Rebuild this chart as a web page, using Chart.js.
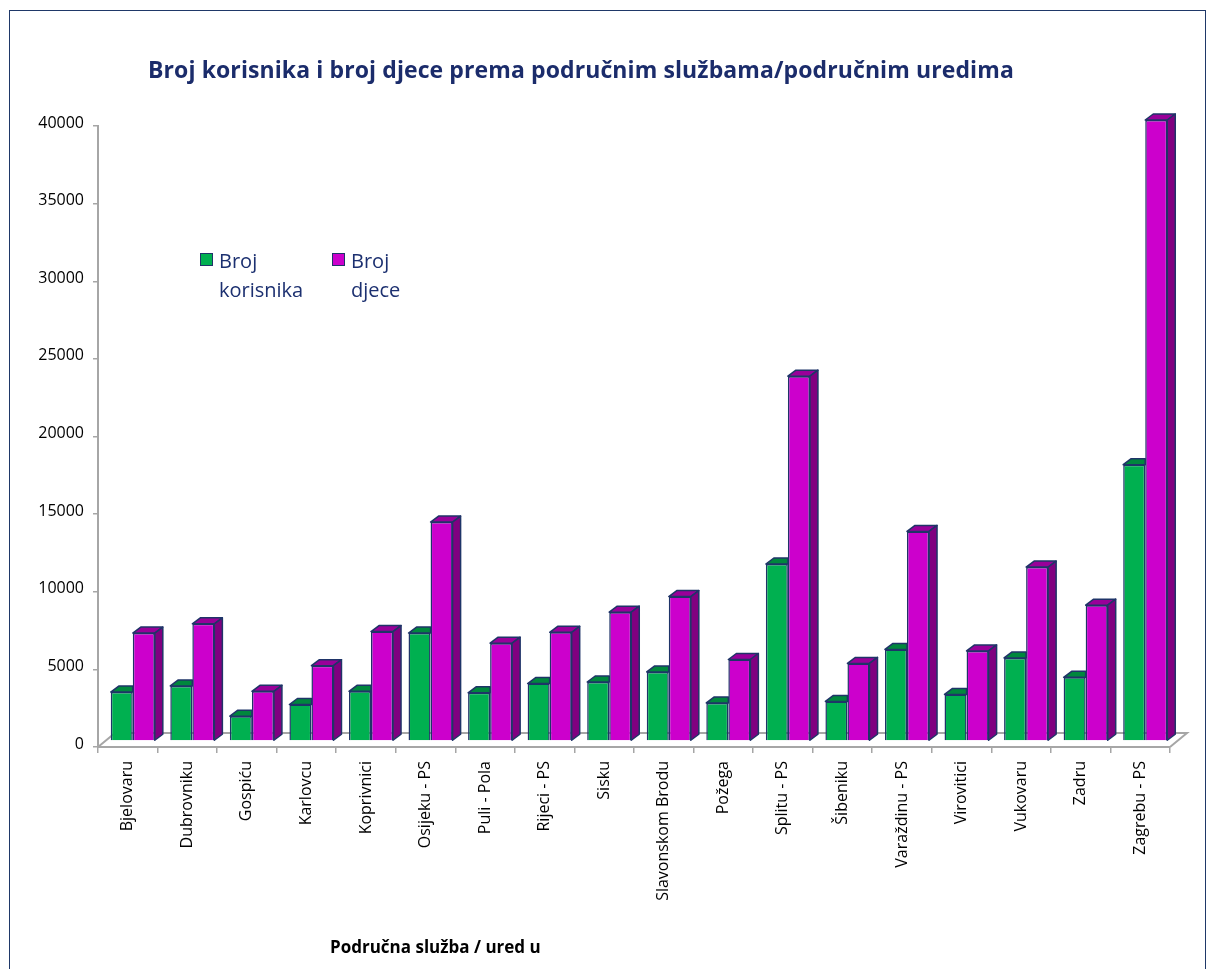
<!DOCTYPE html>
<html>
<head>
<meta charset="utf-8">
<script src="https://cdn.jsdelivr.net/npm/chart.js@4.4.1/dist/chart.umd.min.js"></script>
<style>
  html, body { margin: 0; padding: 0; background: #fff; }
  #wrap { position: relative; width: 1208px; height: 969px; overflow: hidden; }
  #frame { position: absolute; left: 9px; top: 10px; width: 1197px; height: 1000px;
           border: 1.5px solid #1F3868; box-sizing: border-box; }
  #chart { position: absolute; left: 0; top: 0; }
  #title { position: absolute; left: 148px; top: 53px; white-space: nowrap;
           font: bold 23px "Open Sans", sans-serif; letter-spacing: 0.1px; color: #1B2C6B; }
  .leg { position: absolute; font: 20px "Open Sans", sans-serif; line-height: 29px; color: #1C3070; }
  .leg i { position: absolute; left: -19px; top: 7px; width: 13px; height: 13px;
           border: 1.5px solid #1F3468; box-sizing: border-box; }
  #xtitle { position: absolute; left: 330px; top: 935px; white-space: nowrap;
            font: bold 17px "Open Sans", sans-serif; color: #000; }
</style>
</head>
<body>
<div id="wrap">
  <div id="frame"></div>
  <canvas id="chart" width="1208" height="969"></canvas>
  <div id="title">Broj korisnika i broj djece prema područnim službama/područnim uredima</div>
  <div id="legend"></div>
  <div id="xtitle">Područna služba / ured u</div>
</div>
<script>
const categories = ['Bjelovaru', 'Dubrovniku', 'Gospiću', 'Karlovcu', 'Koprivnici', 'Osijeku - PS',
  'Puli - Pola', 'Rijeci - PS', 'Sisku', 'Slavonskom Brodu', 'Požega', 'Splitu - PS',
  'Šibeniku', 'Varaždinu - PS', 'Virovitici', 'Vukovaru', 'Zadru', 'Zagrebu - PS'];
const korisnici = [3150, 3550, 1600, 2350, 3200, 6950, 3100, 3700, 3800, 4450, 2450, 11400,
  2550, 5900, 3000, 5350, 4100, 17800];
const djeca = [6950, 7550, 3200, 4850, 7050, 14100, 6300, 7000, 8300, 9300, 5250, 23500,
  5000, 13500, 5800, 11200, 8750, 40000];
const yTicks = [0, 5000, 10000, 15000, 20000, 25000, 30000, 35000, 40000];

const edge = '#1F3468';
const axisGrey = '#A6A6A6';
// offset of the bar fronts from the floor edge, and the bar depth
const shift = { x: 5, y: -6 };
const depth = { dx: 8, dy: -6 };
const floorDepth = { dx: 17, dy: -14 };

// floor outline behind the bars
const floor = {
  id: 'floor',
  beforeDatasetsDraw(chart) {
    const { ctx, chartArea: a } = chart;
    ctx.save();
    ctx.strokeStyle = axisGrey;
    ctx.lineWidth = 2;
    ctx.beginPath();
    ctx.moveTo(a.left, a.bottom);
    ctx.lineTo(a.left + floorDepth.dx, a.bottom + floorDepth.dy);
    ctx.lineTo(a.right + floorDepth.dx, a.bottom + floorDepth.dy);
    ctx.lineTo(a.right, a.bottom);
    ctx.stroke();
    ctx.restore();
  }
};

// pseudo 3D: top and side faces built from the bar elements
const bars3d = {
  id: 'bars3d',
  beforeDatasetsDraw(chart) {
    chart.ctx.save();
    chart.ctx.translate(shift.x, shift.y);
  },
  afterDatasetsDraw(chart) {
    const ctx = chart.ctx;
    const n = chart.data.datasets.length;
    ctx.lineWidth = 1.5;
    ctx.lineJoin = 'round';
    ctx.strokeStyle = edge;
    chart.data.datasets.forEach((ds, i) => {
      const last = i === n - 1;
      chart.getDatasetMeta(i).data.forEach(bar => {
        const l = bar.x - bar.width / 2, r = bar.x + bar.width / 2;
        const t = bar.y, b = bar.base;
        ctx.beginPath();
        ctx.moveTo(l, t);
        ctx.lineTo(l + depth.dx, t + depth.dy);
        ctx.lineTo(last ? r + depth.dx : r, t + depth.dy);
        ctx.lineTo(r, t);
        ctx.closePath();
        ctx.fillStyle = ds.topColor;
        ctx.fill();
        ctx.stroke();
        if (last) {
          ctx.beginPath();
          ctx.moveTo(r, t);
          ctx.lineTo(r + depth.dx, t + depth.dy);
          ctx.lineTo(r + depth.dx, b + depth.dy);
          ctx.lineTo(r, b);
          ctx.closePath();
          ctx.fillStyle = ds.sideColor;
          ctx.fill();
          ctx.stroke();
        }
      });
    });
    ctx.restore();
  }
};

const ctx = document.getElementById('chart').getContext('2d');
const chart = new Chart(ctx, {
  type: 'bar',
  data: {
    labels: categories,
    datasets: [{
      label: 'Broj korisnika',
      data: korisnici,
      backgroundColor: '#00B050',
      topColor: '#00873D',
      sideColor: '#006B2E',
      borderColor: edge,
      borderWidth: 1.5,
      clip: false
    }, {
      label: 'Broj djece',
      data: djeca,
      backgroundColor: '#CC00CC',
      topColor: '#990099',
      sideColor: '#800080',
      borderColor: edge,
      borderWidth: 1.5,
      clip: false
    }]
  },
  options: {
    responsive: false,
    animation: false,
    events: [],
    categoryPercentage: 0.74,
    barPercentage: 1,
    layout: { padding: { top: 126, right: 38, bottom: 0, left: 0 } },
    plugins: {
      legend: { display: false },
      title: { display: false },
      tooltip: { enabled: false }
    },
    scales: {
      x: {
        afterFit: s => { s.height = 222; },
        border: { color: axisGrey, width: 2 },
        grid: { offset: true, drawOnChartArea: false, tickLength: 6, color: axisGrey, lineWidth: 1.5 },
        ticks: {
          autoSkip: false, minRotation: 90, maxRotation: 90, padding: 8,
          color: '#000', font: { family: 'Open Sans', size: 16 }
        }
      },
      y: {
        min: 0,
        max: 40000,
        afterFit: s => { s.width = 98; },
        afterBuildTicks: s => { s.ticks = yTicks.map(v => ({ value: v })); },
        border: { color: axisGrey, width: 2 },
        grid: { drawOnChartArea: false, tickLength: 5, color: axisGrey, lineWidth: 1.5 },
        ticks: {
          padding: 9, labelOffset: -3,
          color: '#000', font: { family: 'Open Sans', size: 16 },
          callback: v => String(v)
        }
      }
    }
  },
  plugins: [floor, bars3d]
});

// legend, two lines per entry
const legendPos = [{ left: 219, top: 246 }, { left: 351, top: 246 }];
const legendEl = document.getElementById('legend');
chart.data.datasets.forEach((ds, i) => {
  const d = document.createElement('div');
  d.className = 'leg';
  d.style.left = legendPos[i].left + 'px';
  d.style.top = legendPos[i].top + 'px';
  d.innerHTML = '<i style="background:' + ds.backgroundColor + '"></i>' + ds.label.split(' ').join('<br>');
  legendEl.appendChild(d);
});
</script>
</body>
</html>
